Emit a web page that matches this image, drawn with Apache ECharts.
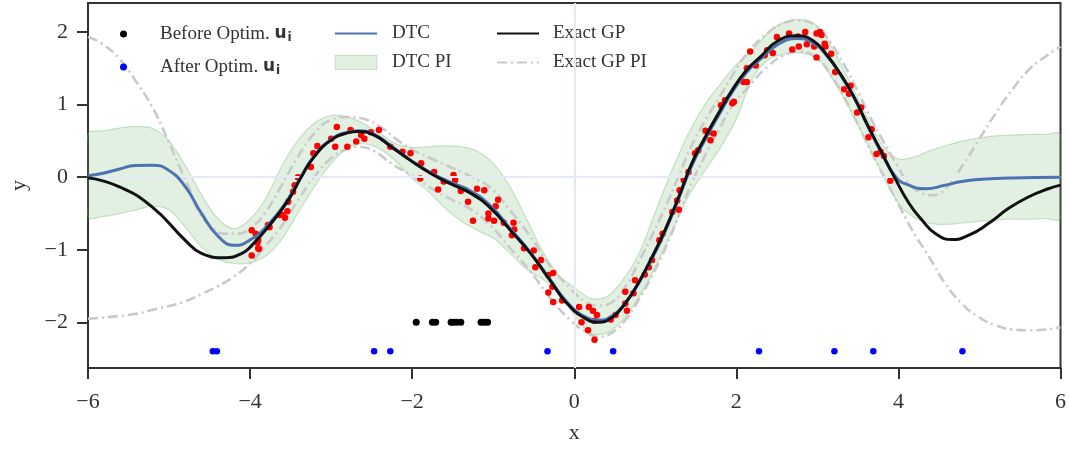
<!DOCTYPE html>
<html>
<head>
<meta charset="utf-8">
<script src="https://cdn.jsdelivr.net/npm/echarts@6.0.0/dist/echarts.min.js"></script>
<style>
    html, body { margin: 0; padding: 0; background: #fff; }
    #main { width: 1069px; height: 450px; }
</style>
</head>
<body>
<div id="main"></div>
<script>
// 刻度
var xTicks = [-6, -4, -2, 0, 2, 4, 6];
var yTicks = [-2, -1, 0, 1, 2];

// DTC 预测区间 (同一组 x)
var bandX = [-6.0, -5.8, -5.6, -5.4, -5.2, -5.0, -4.8, -4.6, -4.4, -4.2, -4.0, -3.8, -3.6, -3.4, -3.2, -3.0,
    -2.8, -2.6, -2.4, -2.2, -2.0, -1.8, -1.6, -1.4, -1.2, -1.0, -0.8, -0.6, -0.4, -0.2, 0.0,
    0.2, 0.4, 0.6, 0.8, 1.0, 1.2, 1.4, 1.6, 1.8, 2.0, 2.2, 2.4, 2.6, 2.8, 3.0,
    3.2, 3.4, 3.6, 3.8, 4.0, 4.2, 4.4, 4.6, 4.8, 5.0, 5.2, 5.4, 5.6, 5.8, 6.0];
var bandUpper = [0.60, 0.64, 0.68, 0.70, 0.67, 0.50, 0.16, -0.24, -0.57, -0.71, -0.58, -0.28, 0.17, 0.52, 0.75, 0.85,
    0.83, 0.74, 0.60, 0.46, 0.41, 0.42, 0.43, 0.42, 0.36, 0.19, -0.12, -0.55, -1.00, -1.34, -1.52,
    -1.67, -1.65, -1.42, -1.05, -0.48, 0.08, 0.58, 0.98, 1.28, 1.55, 1.75, 2.00, 2.14, 2.17, 2.08,
    1.75, 1.31, 0.86, 0.45, 0.25, 0.28, 0.37, 0.44, 0.50, 0.54, 0.57, 0.58, 0.59, 0.59, 0.59];
var bandLower = [-0.55, -0.54, -0.50, -0.45, -0.40, -0.45, -0.69, -0.96, -1.13, -1.19, -1.18, -1.08, -0.84, -0.48, -0.12, 0.19,
    0.40, 0.46, 0.39, 0.22, -0.02, -0.20, -0.42, -0.60, -0.73, -0.84, -1.04, -1.26, -1.40, -1.56, -1.90,
    -2.15, -2.15, -1.97, -1.65, -1.24, -0.76, -0.28, 0.07, 0.40, 0.80, 1.36, 1.62, 1.70, 1.71, 1.64,
    1.33, 0.94, 0.50, 0.05, -0.36, -0.56, -0.64, -0.65, -0.63, -0.61, -0.59, -0.58, -0.58, -0.57, -0.57];

// DTC 均值
var dtcMean = [[-6.0, 0.02], [-5.83, 0.05], [-5.62, 0.11], [-5.42, 0.16], [-5.21, 0.165], [-5.01, 0.10], [-4.80, -0.13],
    [-4.60, -0.50], [-4.39, -0.82], [-4.19, -0.94], [-4.02, -0.88], [-3.78, -0.66], [-3.53, -0.30], [-3.37, 0.01],
    [-3.21, 0.29], [-3.0, 0.52], [-2.8, 0.62], [-2.67, 0.64], [-2.47, 0.59], [-2.26, 0.43], [-2.04, 0.25], [-1.77, 0.06],
    [-1.53, -0.07], [-1.28, -0.19], [-1.03, -0.40], [-0.79, -0.71], [-0.54, -1.04], [-0.30, -1.41], [-0.09, -1.72],
    [0.14, -1.93], [0.30, -1.97], [0.47, -1.91], [0.63, -1.73], [0.80, -1.45], [0.96, -1.12], [1.12, -0.75], [1.29, -0.29],
    [1.45, 0.16], [1.62, 0.53], [1.78, 0.85], [1.96, 1.19], [2.13, 1.45], [2.30, 1.63], [2.50, 1.82], [2.75, 1.91],
    [2.96, 1.84], [3.12, 1.67], [3.28, 1.42], [3.45, 1.10], [3.61, 0.73], [3.78, 0.36], [3.97, 0.0], [4.13, -0.11],
    [4.33, -0.16], [4.58, -0.11], [4.78, -0.06], [5.03, -0.03], [5.40, -0.01], [6.0, 0.0]];

// 精确 GP 均值
var gpMean = [[-6.0, -0.01], [-5.62, -0.13], [-5.21, -0.41], [-4.8, -0.87], [-4.6, -1.05], [-4.31, -1.11], [-4.1, -1.05],
    [-3.97, -0.93], [-3.78, -0.69], [-3.53, -0.32], [-3.37, 0.0], [-3.21, 0.28], [-3.0, 0.51], [-2.8, 0.61], [-2.67, 0.63],
    [-2.47, 0.58], [-2.26, 0.42], [-2.04, 0.245], [-1.77, 0.05], [-1.53, -0.09], [-1.28, -0.22], [-1.03, -0.43],
    [-0.79, -0.73], [-0.54, -1.05], [-0.30, -1.42], [-0.09, -1.74], [0.14, -1.95], [0.30, -2.0], [0.47, -1.93],
    [0.63, -1.74], [0.80, -1.44], [0.96, -1.10], [1.12, -0.73], [1.29, -0.27], [1.45, 0.19], [1.62, 0.56], [1.78, 0.88],
    [1.96, 1.22], [2.13, 1.48], [2.30, 1.66], [2.50, 1.87], [2.75, 1.95], [2.96, 1.87], [3.12, 1.68], [3.28, 1.43],
    [3.45, 1.11], [3.61, 0.74], [3.78, 0.37], [3.95, 0.0], [4.13, -0.36], [4.29, -0.59], [4.46, -0.78], [4.66, -0.86],
    [4.87, -0.80], [5.11, -0.64], [5.36, -0.43], [5.61, -0.27], [5.85, -0.16], [6.0, -0.11]];

// 精确 GP 预测区间 上/下
var gpUpper = [[-6.0, 1.93], [-5.83, 1.84], [-5.62, 1.64], [-5.42, 1.34], [-5.21, 0.97], [-5.05, 0.60], [-4.89, 0.19],
    [-4.76, -0.13], [-4.64, -0.46], [-4.47, -0.69], [-4.31, -0.78], [-4.15, -0.78], [-3.98, -0.69], [-3.82, -0.50],
    [-3.62, -0.13], [-3.41, 0.28], [-3.21, 0.60], [-3.0, 0.79], [-2.80, 0.83], [-2.59, 0.80], [-2.39, 0.69], [-2.18, 0.51],
    [-2.0, 0.38], [-1.77, 0.26], [-1.53, 0.14], [-1.28, 0.01], [-1.03, -0.15], [-0.79, -0.46], [-0.54, -0.82],
    [-0.30, -1.22], [-0.05, -1.53], [0.14, -1.72], [0.30, -1.77], [0.47, -1.72], [0.63, -1.51], [0.80, -1.16],
    [0.96, -0.80], [1.12, -0.42], [1.29, 0.02], [1.45, 0.44], [1.62, 0.79], [1.78, 1.08], [1.95, 1.40], [2.13, 1.70],
    [2.38, 1.98], [2.59, 2.12], [2.79, 2.16], [3.0, 2.07], [3.16, 1.86], [3.33, 1.55], [3.49, 1.20], [3.65, 0.83],
    [3.82, 0.48], [3.98, 0.17], [4.13, -0.09], [4.29, -0.22], [4.42, -0.25], [4.58, -0.16], [4.78, 0.14], [4.99, 0.51],
    [5.20, 0.88], [5.40, 1.20], [5.61, 1.48], [5.81, 1.66], [6.0, 1.80]];
var gpLower = [[-6.0, -1.95], [-5.44, -1.89], [-5.21, -1.83], [-4.82, -1.72], [-4.60, -1.61], [-4.41, -1.51], [-4.2, -1.37],
    [-4.0, -1.19], [-3.82, -0.96], [-3.62, -0.69], [-3.41, -0.32], [-3.21, 0.0], [-3.0, 0.26], [-2.80, 0.39],
    [-2.67, 0.42], [-2.47, 0.36], [-2.26, 0.19], [-2.02, 0.03], [-1.77, -0.15], [-1.53, -0.30], [-1.28, -0.44],
    [-1.03, -0.67], [-0.79, -0.98], [-0.54, -1.30], [-0.30, -1.66], [-0.05, -1.97], [0.14, -2.13], [0.30, -2.20],
    [0.47, -2.14], [0.63, -1.97], [0.80, -1.68], [0.96, -1.36], [1.12, -0.99], [1.29, -0.53], [1.45, -0.08], [1.62, 0.31],
    [1.78, 0.64], [1.95, 0.98], [2.17, 1.27], [2.38, 1.52], [2.59, 1.68], [2.79, 1.73], [3.0, 1.63], [3.16, 1.42],
    [3.33, 1.10], [3.49, 0.75], [3.65, 0.38], [3.82, 0.01], [3.98, -0.33], [4.17, -0.73], [4.38, -1.10], [4.58, -1.47],
    [4.78, -1.74], [4.99, -1.93], [5.20, -2.04], [5.40, -2.10], [5.61, -2.11], [5.81, -2.10], [6.0, -2.07]];

// 观测数据 (红点)
var obsPoints = [[-3.98, -0.73], [-3.93, -0.78], [-3.91, -0.90], [-3.89, -0.99], [-3.98, -1.08], [-3.90, -0.98],
    [-3.90, -0.87], [-3.76, -0.69], [-3.78, -0.66], [-3.64, -0.52], [-3.60, -0.52], [-3.57, -0.56], [-3.54, -0.47],
    [-3.53, -0.34], [-3.47, -0.20], [-3.45, -0.11], [-3.41, 0.0], [-3.25, 0.14], [-3.22, 0.33], [-3.17, 0.43],
    [-3.00, 0.53], [-2.95, 0.42], [-2.93, 0.69], [-2.80, 0.42], [-2.76, 0.65], [-2.69, 0.49], [-2.63, 0.58],
    [-2.59, 0.53], [-2.51, 0.62], [-2.41, 0.65], [-2.27, 0.42], [-2.12, 0.35], [-2.02, 0.33],
    [-1.89, 0.19], [-1.90, -0.02], [-1.73, 0.07], [-1.61, -0.06], [-1.68, -0.17], [-1.49, 0.03], [-1.47, -0.04],
    [-1.40, -0.19], [-1.31, -0.34], [-1.20, -0.16], [-1.11, -0.18], [-1.25, -0.60], [-0.94, -0.31], [-0.97, -0.40],
    [-1.06, -0.50], [-1.06, -0.57], [-0.99, -0.60], [-0.87, -0.63], [-0.75, -0.63], [-0.74, -0.72], [-0.77, -0.80],
    [-0.62, -0.98], [-0.50, -1.01], [-0.48, -1.24], [-0.41, -1.14], [-0.32, -1.35], [-0.26, -1.32], [-0.32, -1.59],
    [-0.26, -1.72], [-0.15, -1.70], [-0.27, -1.51],
    [0.06, -1.79], [0.09, -2.0], [0.18, -1.79], [0.23, -1.84], [0.28, -1.90], [0.17, -2.11], [0.25, -2.24],
    [0.25, -1.98], [0.45, -1.96], [0.51, -1.90], [0.63, -1.74], [0.65, -1.84], [0.63, -1.58], [0.73, -1.60],
    [0.75, -1.42], [0.87, -1.34], [0.92, -1.24], [0.96, -1.14], [1.05, -0.87], [1.09, -0.78], [1.21, -0.48],
    [1.29, -0.45], [1.27, -0.32], [1.30, -0.18], [1.35, -0.04], [1.41, 0.07], [1.49, 0.33], [1.53, 0.37],
    [1.62, 0.64], [1.66, 0.62], [1.68, 0.51], [1.72, 0.60], [1.81, 0.99], [1.86, 1.06], [1.95, 1.02], [1.97, 1.04],
    [2.09, 1.31], [2.13, 1.31], [2.13, 1.50], [2.17, 1.73], [2.24, 1.54], [2.35, 1.68], [2.38, 1.75], [2.45, 1.71],
    [2.50, 1.93], [2.65, 1.98], [2.69, 1.76], [2.77, 1.80], [2.76, 1.94], [2.85, 2.0], [2.87, 1.83], [2.96, 1.80],
    [2.99, 1.98], [3.03, 2.0], [3.05, 1.96], [2.99, 1.65], [3.09, 1.84], [3.10, 1.80], [3.17, 1.70], [3.22, 1.45],
    [3.33, 1.21], [3.39, 1.15], [3.41, 1.26], [3.49, 0.89], [3.54, 0.96], [3.63, 0.55], [3.67, 0.66], [3.73, 0.32],
    [3.78, 0.35], [3.82, 0.29], [3.90, -0.05]];

// 诱导点
var uBeforeX = [-1.95, -1.75, -1.71, -1.52, -1.49, -1.45, -1.40, -1.15, -1.11, -1.07];
var uBeforeY = -2.0;
var uAfterX = [-4.46, -4.41, -2.47, -2.27, -0.33, 0.48, 2.28, 3.21, 3.69, 4.79];
var uAfterY = -2.4;

var serif = 'Liberation Serif';
var axisColor = '#333';
var bandFill = 'rgba(110, 180, 110, 0.2)';
var bandEdge = 'rgba(110, 180, 110, 0.35)';
var gpPIStyle = {color: '#c9c9c9', width: 2.6, type: [10, 4, 2, 4]};
var hideSymbol = {opacity: 0};

function minusFmt(v) {
    return v < 0 ? '\u2212' + Math.abs(v) : String(v);
}

var uRich = {
    u: {fontFamily: 'DejaVu Sans', fontWeight: 'bold', fontSize: 17, color: '#333', lineHeight: 20},
    i: {fontFamily: 'DejaVu Sans', fontWeight: 'bold', fontSize: 12, color: '#333', lineHeight: 20, padding: [8, 0, 0, 1]}
};

var option = {
    animation: false,
    backgroundColor: '#fff',
    grid: {
        left: 87, right: 7, top: 3, bottom: 82,
        show: true, borderColor: axisColor, borderWidth: 2
    },
    legend: [{
        left: 115, top: 19, orient: 'vertical',
        itemWidth: 41, itemHeight: 7, itemGap: 13,
        textStyle: {fontFamily: serif, fontSize: 19, color: '#333', lineHeight: 20, padding: [0, 0, 0, 11], rich: uRich},
        formatter: function (name) {
            return name + ' {u|u}{i|i}';
        },
        data: [
            {name: 'Before Optim.', icon: 'circle'},
            {name: 'After Optim.', icon: 'circle'}
        ]
    }, {
        left: 329, top: 18.5, orient: 'vertical',
        itemWidth: 42, itemHeight: 14, itemGap: 9,
        textStyle: {fontFamily: serif, fontSize: 19, color: '#333', lineHeight: 20, padding: [0, 0, 0, 10]},
        data: [
            {name: 'DTC', itemStyle: hideSymbol},
            {name: 'DTC PI', icon: 'rect', itemStyle: {color: bandFill, borderColor: bandEdge, borderWidth: 1}}
        ]
    }, {
        left: 491, top: 18.5, orient: 'vertical',
        itemWidth: 42, itemHeight: 14, itemGap: 9,
        textStyle: {fontFamily: serif, fontSize: 19, color: '#333', lineHeight: 20, padding: [0, 0, 0, 9]},
        data: [
            {name: 'Exact GP', itemStyle: hideSymbol},
            {name: 'Exact GP PI', itemStyle: hideSymbol}
        ]
    }],
    xAxis: {
        type: 'value', min: -6, max: 6, interval: 2,
        name: 'x', nameLocation: 'middle', nameGap: 54,
        nameTextStyle: {fontFamily: serif, fontSize: 22, color: '#333'},
        axisLine: {show: true, onZero: false, lineStyle: {color: axisColor, width: 2}},
        axisTick: {show: true, inside: false, length: 11, lineStyle: {color: axisColor, width: 2}},
        axisLabel: {fontFamily: serif, fontSize: 22, color: '#333', margin: 23, formatter: minusFmt},
        splitLine: {show: false}
    },
    yAxis: {
        type: 'value', min: -2.63, max: 2.4,
        name: 'y', nameLocation: 'middle', nameGap: 58,
        nameTextStyle: {fontFamily: serif, fontSize: 22, color: '#333'},
        axisLine: {show: true, onZero: false, lineStyle: {color: axisColor, width: 2}},
        axisTick: {show: true, inside: false, length: 11, customValues: yTicks, lineStyle: {color: axisColor, width: 2}},
        axisLabel: {fontFamily: serif, fontSize: 22, color: '#333', margin: 20, customValues: yTicks, formatter: minusFmt},
        splitLine: {show: false}
    },
    series: [{
        // DTC 预测区间 (多边形)
        name: 'DTC PI',
        type: 'custom',
        z: 1,
        silent: true,
        clip: true,
        data: [[0, 0]],
        renderItem: function (params, api) {
            var pts = [];
            for (var i = 0; i < bandX.length; i++) {
                pts.push(api.coord([bandX[i], bandUpper[i]]));
            }
            for (var j = bandX.length - 1; j >= 0; j--) {
                pts.push(api.coord([bandX[j], bandLower[j]]));
            }
            return {
                type: 'polygon',
                shape: {points: pts, smooth: 0.3},
                style: {fill: bandFill, stroke: bandEdge, lineWidth: 1.2}
            };
        }
    }, {
        // x=0, y=0 参考线
        name: 'zero',
        type: 'line',
        z: 2,
        data: [],
        markLine: {
            silent: true,
            symbol: 'none',
            label: {show: false},
            lineStyle: {color: '#e4e9f4', width: 2, type: 'solid'},
            data: [{yAxis: 0}, {xAxis: 0}]
        }
    }, {
        name: 'Exact GP PI',
        type: 'line', z: 3, smooth: true, symbol: 'none',
        lineStyle: gpPIStyle, itemStyle: {color: '#c9c9c9'},
        data: gpUpper
    }, {
        name: 'Exact GP PI',
        type: 'line', z: 3, smooth: true, symbol: 'none',
        lineStyle: gpPIStyle, itemStyle: {color: '#c9c9c9'},
        data: gpLower
    }, {
        name: 'data',
        type: 'scatter', z: 4,
        symbolSize: 6.5,
        itemStyle: {color: '#ff0000', opacity: 1},
        data: obsPoints
    }, {
        name: 'DTC',
        type: 'line', z: 5, smooth: true, symbol: 'none',
        lineStyle: {color: '#4c72b0', width: 3},
        itemStyle: {color: '#4c72b0'},
        data: dtcMean
    }, {
        name: 'Exact GP',
        type: 'line', z: 6, smooth: true, symbol: 'none',
        lineStyle: {color: '#111', width: 3},
        itemStyle: {color: '#111'},
        data: gpMean
    }, {
        name: 'Before Optim.',
        type: 'scatter', z: 7,
        symbolSize: 7,
        itemStyle: {color: '#000', opacity: 1},
        data: uBeforeX.map(function (x) { return [x, uBeforeY]; })
    }, {
        name: 'After Optim.',
        type: 'scatter', z: 7,
        symbolSize: 6.5,
        itemStyle: {color: '#0000ff', opacity: 1},
        data: uAfterX.map(function (x) { return [x, uAfterY]; })
    }]
};

//初始化echarts实例
var myChart = echarts.init(document.getElementById('main'));
//使用制定的配置项和数据显示图表
myChart.setOption(option);
</script>
</body>
</html>
